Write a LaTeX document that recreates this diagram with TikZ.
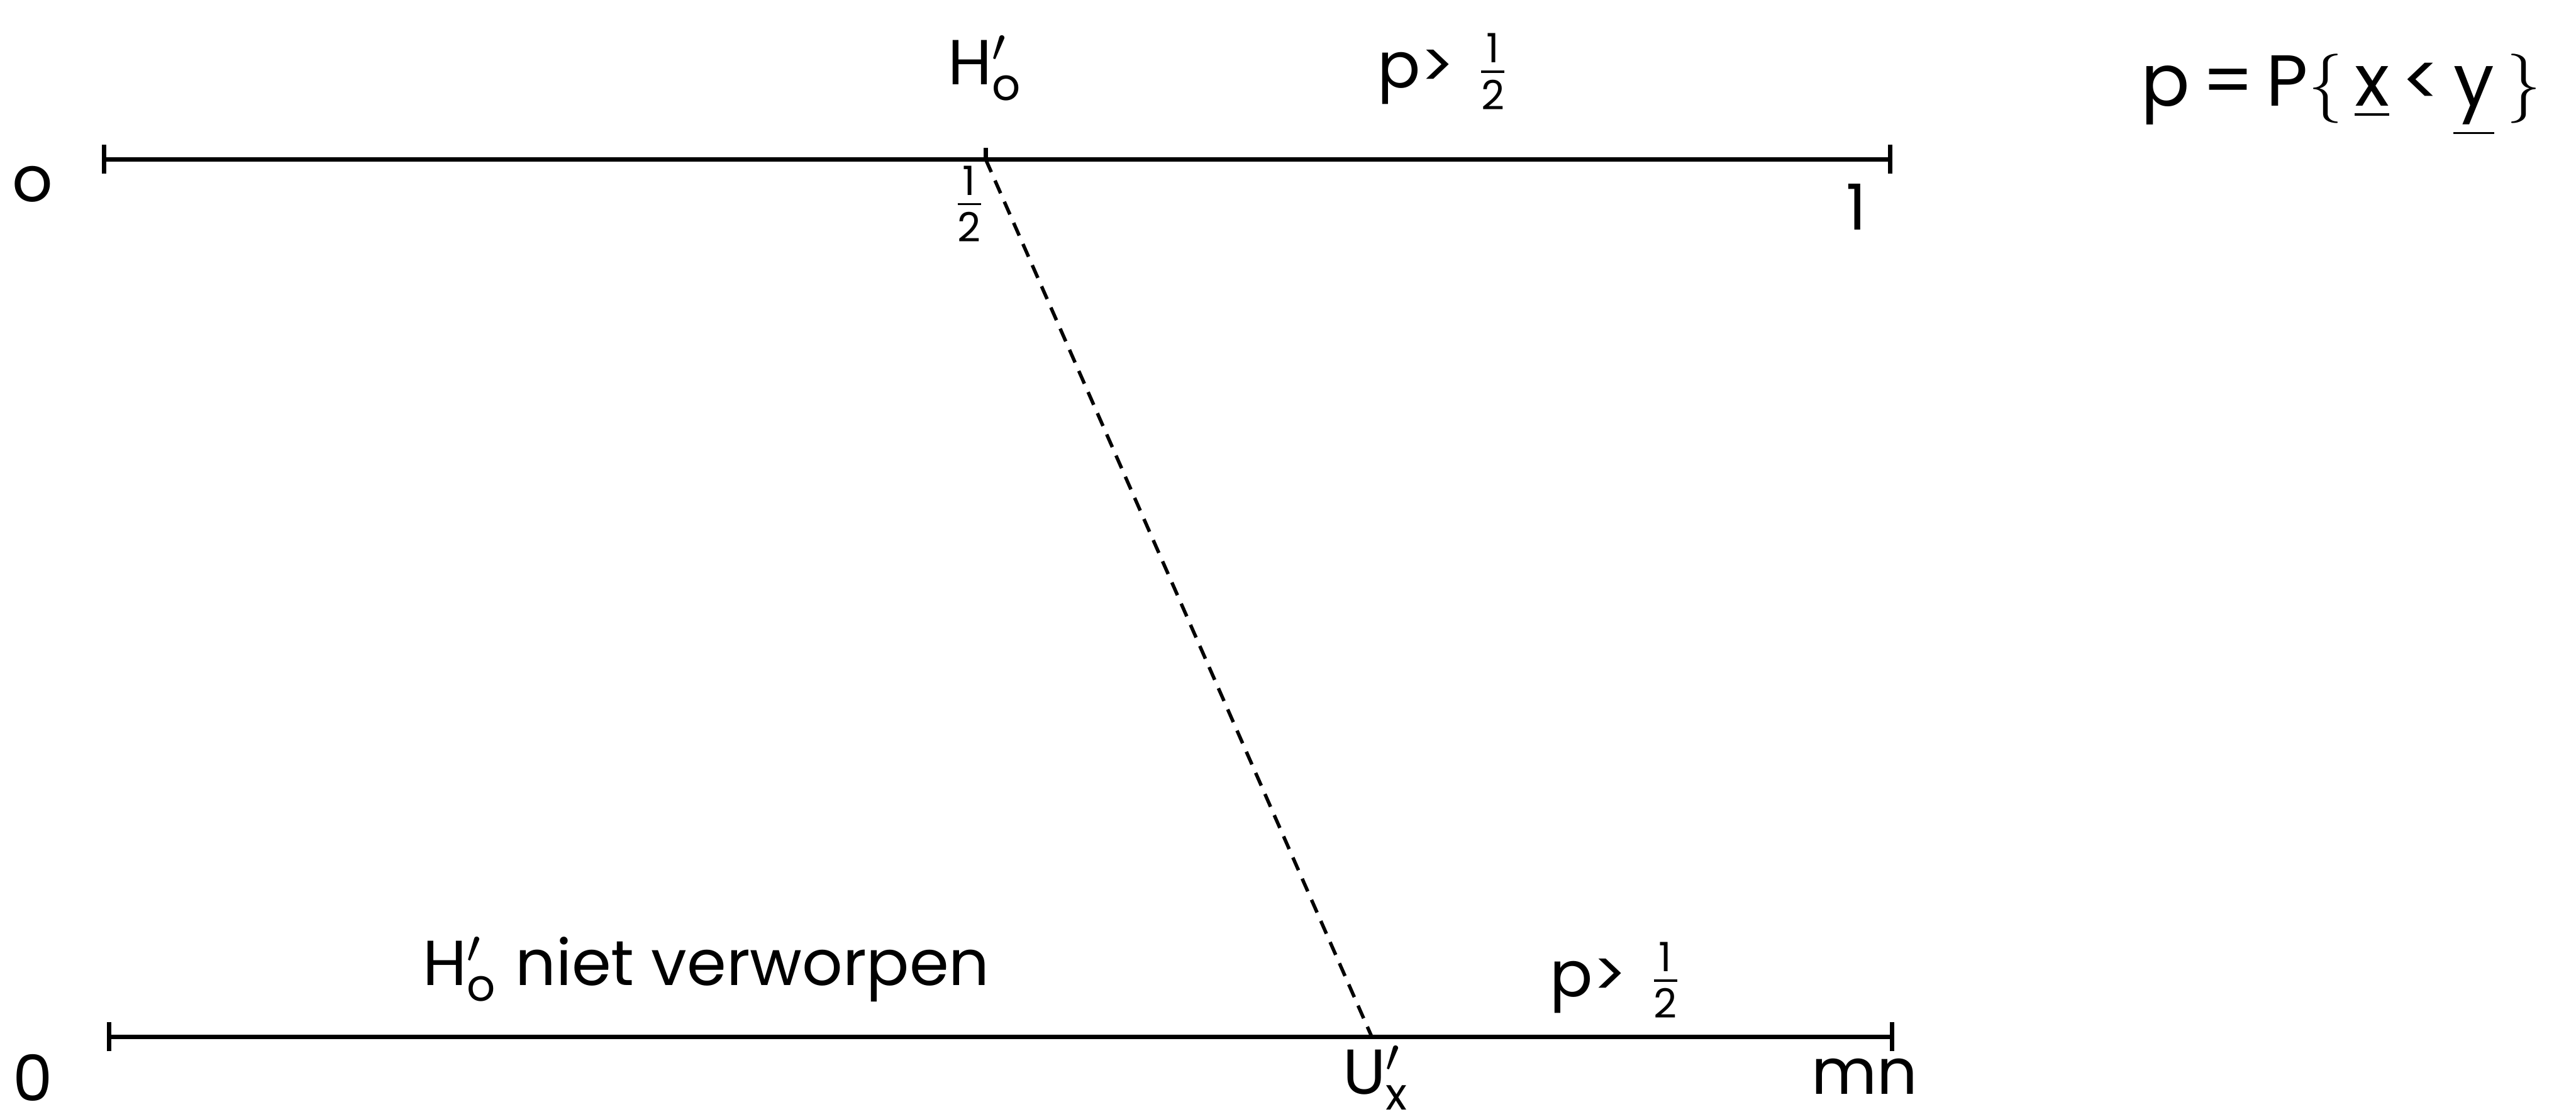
\documentclass[tikz,border=0pt]{standalone}
\usepackage{fontspec}
\setmainfont{Poppins}
\usetikzlibrary{positioning,arrows.meta}
\newcommand{\halfp}{$\frac{\mbox{\scriptsize 1}}{\mbox{\scriptsize 2}}$}
\begin{document}
\begin{tikzpicture}[x=0.01cm, y=-0.01cm, >=stealth]

\tikzset{
  scale line/.style={thick, {Bar[width=5pt]}-{Bar[width=5pt]}},
  link line/.style={semithick, dash pattern=on 2.4pt off 1.6pt},
  lbl/.style={font=\fontsize{11}{13}\selectfont, inner sep=1pt},
  biglbl/.style={font=\fontsize{12.5}{15}\selectfont, inner sep=1pt}
}

\useasboundingbox (0,0) rectangle (1568,681);

% upper scale: p from 0 to 1
\coordinate (pzero) at (62,97);
\coordinate (phalf) at (600,97);
\coordinate (pone) at (1152,97);
\draw[scale line] (pzero) -- (pone);
\draw[thick] (phalf) -- ++(0,-7);

\node[lbl] (pzerolbl) at (20,112) {o};
\node[lbl, above=9pt of phalf] (hnul) {$\mathrm{H}^{\prime}_{\mathrm{o}}$};
\node[lbl] (halflbl) at (590,124) {\halfp};
\node[lbl] (palt) at (862,47) {p>};
\node[lbl, right=1pt of palt, yshift=1pt] (palthalf) {\halfp};
\node[lbl] (ponelbl) at (1130,126) {1};
\node[biglbl] (pdef) at (1425,58) {p\,=\,P$\bigl\{$\,\underline{x}\,<\,\underline{y}\,$\bigr\}$};

% lower scale: U from 0 to mn
\coordinate (uzero) at (65,631);
\coordinate (ucrit) at (835,631);
\coordinate (umn) at (1153,631);
\draw[scale line] (uzero) -- (umn);

\node[lbl] (uzerolbl) at (20,656) {0};
\node[lbl] (accept) at (430,590) {$\mathrm{H}^{\prime}_{\mathrm{o}}$ niet verworpen};
\node[lbl] (ualt) at (967,600) {p>};
\node[lbl, right=1pt of ualt, yshift=1pt] (ualthalf) {\halfp};
\node[lbl] (ucritlbl) at (838,656) {$\mathrm{U}^{\prime}_{\mathrm{x}}$};
\node[lbl] (umnlbl) at (1135,655) {mn};

% correspondence between the two scales
\draw[link line] (phalf) -- (ucrit);

\end{tikzpicture}
\end{document}
